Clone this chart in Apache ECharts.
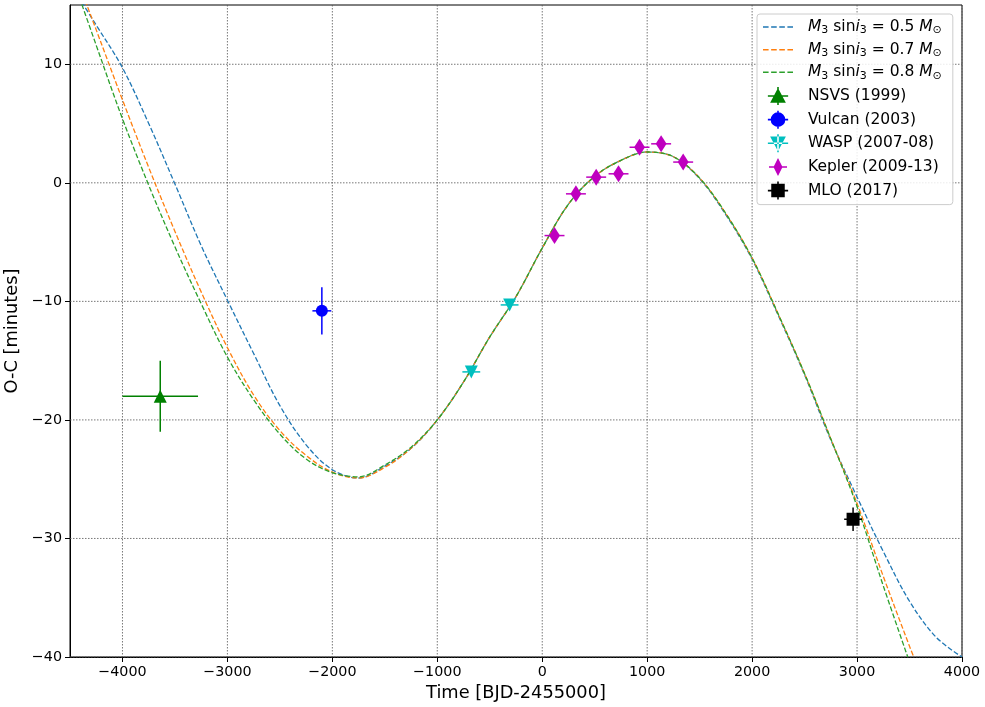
<!DOCTYPE html>
<html><head><meta charset="utf-8">
<script src="https://cdn.jsdelivr.net/npm/echarts@6/dist/echarts.min.js"></script>
<style>html,body{margin:0;padding:0;background:#fff}#c{width:985px;height:707px}</style>
</head><body><div id="c"></div>
<script>
// ---- tick values ----
const xTicks = [-4000,-3000,-2000,-1000,0,1000,2000,3000,4000];
const yTicks = [-40,-30,-20,-10,0,10];

// ---- model curves ----
const curveNames = ['M3 sini3 = 0.5 Msun','M3 sini3 = 0.7 Msun','M3 sini3 = 0.8 Msun'];
const curveMass = ['0.5','0.7','0.8'];
const curve05 = [[-4500,16.8],[-4250,13.3],[-4000,9.7],[-3750,5.0],[-3500,-0.1],[-3250,-5.3],[-3000,-9.9],[-2750,-14.4],[-2500,-18.8],[-2250,-22.1],[-2000,-24.2],[-1750,-24.9],[-1500,-23.9],[-1250,-22.4],[-1000,-20.0],[-750,-16.8],[-500,-13.0],[-250,-9.6],[0,-5.5],[250,-1.8],[500,0.55],[750,1.9],[1000,2.6],[1250,2.2],[1500,0.35],[1750,-2.7],[2000,-6.45],[2250,-11.2],[2500,-16.2],[2750,-21.7],[3000,-26.5],[3250,-31.1],[3500,-35.3],[3750,-38.3],[4000,-40.0]];
const curve07 = [[-4500,18.8],[-4250,12.9],[-4000,7.0],[-3750,1.3],[-3500,-4.1],[-3250,-9.2],[-3000,-13.9],[-2750,-17.9],[-2500,-20.9],[-2250,-23.0],[-2000,-24.4],[-1750,-24.9],[-1500,-24.0],[-1250,-22.4],[-1000,-20.0],[-750,-16.8],[-500,-13.0],[-250,-9.6],[0,-5.5],[250,-1.8],[500,0.55],[750,1.9],[1000,2.6],[1250,2.2],[1500,0.4],[1750,-2.6],[2000,-6.35],[2250,-11.1],[2500,-16.1],[2750,-21.6],[3000,-27.05],[3250,-33.2],[3500,-39.1],[3540,-40.0]];
const curve08 = [[-4500,17.9],[-4250,11.6],[-4000,5.4],[-3750,-0.2],[-3500,-5.4],[-3250,-10.2],[-3000,-14.7],[-2750,-18.3],[-2500,-21.2],[-2250,-23.3],[-2000,-24.45],[-1750,-24.8],[-1500,-23.8],[-1250,-22.3],[-1000,-20.0],[-750,-16.8],[-500,-13.0],[-250,-9.6],[0,-5.5],[250,-1.8],[500,0.55],[750,1.9],[1000,2.6],[1250,2.2],[1500,0.4],[1750,-2.6],[2000,-6.35],[2250,-11.1],[2500,-16.1],[2750,-21.6],[3000,-27.3],[3250,-34.0],[3483,-40.0]];

// ---- observations: [time, O-C, xerr, yerr] ----
const nsvs   = [[-3640,-18.0,360,3.0]];
const vulcan = [[-2100,-10.8,90,2.0]];
const wasp   = [[-676,-15.95,85,0.3],[-311,-10.3,85,0.3]];
const kepler = [[117,-4.45,95,0.3],[321,-0.93,95,0.3],[514,0.48,95,0.3],[727,0.76,95,0.3],[927,3.0,95,0.3],[1133,3.29,95,0.3],[1343,1.75,95,0.3]];
const mlo    = [[2962,-28.38,85,1.0]];

const FONT = 'DejaVu Sans';
const fmt = v => (v < 0 ? '\u2212' + Math.abs(v) : String(v));

function errRender(shape, color, size) {
  return function (params, api) {
    const x = api.value(0), y = api.value(1), xe = api.value(2), ye = api.value(3);
    const c = api.coord([x, y]);
    const l = api.coord([x - xe, y]), r = api.coord([x + xe, y]);
    const t = api.coord([x, y + ye]), b = api.coord([x, y - ye]);
    const ls = { stroke: color, lineWidth: 1.5 };
    const cx = c[0], cy = c[1], s = size;
    let m;
    if (shape === 'tup') m = { type: 'polygon', shape: { points: [[cx, cy - s / 2], [cx + s / 2, cy + s / 2], [cx - s / 2, cy + s / 2]] }, style: { fill: color } };
    else if (shape === 'tdown') m = { type: 'polygon', shape: { points: [[cx, cy + s / 2], [cx + s / 2, cy - s / 2], [cx - s / 2, cy - s / 2]] }, style: { fill: color } };
    else if (shape === 'circle') m = { type: 'circle', shape: { cx: cx, cy: cy, r: s / 2 }, style: { fill: color } };
    else if (shape === 'diamond') m = { type: 'polygon', shape: { points: [[cx, cy - s / 2], [cx + s * 0.32, cy], [cx, cy + s / 2], [cx - s * 0.32, cy]] }, style: { fill: color } };
    else m = { type: 'rect', shape: { x: cx - s / 2, y: cy - s / 2, width: s, height: s }, style: { fill: color } };
    return { type: 'group', children: [
      { type: 'line', shape: { x1: l[0], y1: l[1], x2: r[0], y2: r[1] }, style: ls },
      { type: 'line', shape: { x1: t[0], y1: t[1], x2: b[0], y2: b[1] }, style: ls },
      m
    ] };
  };
}

function gridRender(dir) {
  return function (params, api) {
    const v = api.value(dir === 'v' ? 0 : 1);
    let p1, p2;
    if (dir === 'v') { p1 = api.coord([v, 15]); p2 = api.coord([v, -40]); }
    else { p1 = api.coord([-4500, v]); p2 = api.coord([4000, v]); }
    return { type: 'line', shape: { x1: p1[0], y1: p1[1], x2: p2[0], y2: p2[1] },
      style: { stroke: '#555', lineWidth: 0.8, lineDash: [1.5, 1.5] } };
  };
}

const lineColors = ['#1f77b4', '#ff7f0e', '#2ca02c'];
const curves = [curve05, curve07, curve08];

const series = [
  { type: 'custom', silent: true, z: 1, data: xTicks.map(v => [v, 0]), encode: { x: 0, y: 1 }, renderItem: gridRender('v') },
  { type: 'custom', silent: true, z: 1, data: yTicks.map(v => [0, v]), encode: { x: 0, y: 1 }, renderItem: gridRender('h') }
];
curves.forEach((d, i) => series.push({
  name: curveNames[i], type: 'line', data: d, symbol: 'none', smooth: 0.35, z: 3, clip: true,
  lineStyle: { color: lineColors[i], width: 1.3, type: [5, 2.2] }, itemStyle: { color: lineColors[i] }
}));
const obs = [
  ['NSVS (1999)', nsvs, 'tup', '#008000', 13],
  ['Vulcan (2003)', vulcan, 'circle', '#0000ff', 12],
  ['WASP (2007-08)', wasp, 'tdown', '#00bfbf', 13],
  ['Kepler (2009-13)', kepler, 'diamond', '#bf00bf', 17],
  ['MLO (2017)', mlo, 'square', '#000000', 13]
];
obs.forEach(o => series.push({
  name: o[0], type: 'custom', data: o[1], z: 5, encode: { x: 0, y: 1 },
  itemStyle: { color: o[3] }, renderItem: errRender(o[2], o[3], o[4])
}));

const dashIcon = 'path://M0,0H5.5V1.5H0Z M8,0H13.5V1.5H8Z M16,0H21.5V1.5H16Z M24,0H29.5V1.5H24Z';
const icons = {
  tup: 'path://M1,9.3H19V10.7H1Z M9.3,2H10.7V18H9.3Z M10,3L17,16H3Z',
  circle: 'path://M1,9.3H19V10.7H1Z M9.3,2H10.7V18H9.3Z M10,3.5A6.5,6.5 0 1 1 9.99,3.5Z',
  tdown: 'path://M1,9.3H19V10.7H1Z M9.3,2H10.7V18H9.3Z M10,17L17,4H3Z',
  diamond: 'path://M1,9.3H19V10.7H1Z M9.3,2H10.7V18H9.3Z M10,1L14.5,10L10,19L5.5,10Z',
  square: 'path://M1,9.3H19V10.7H1Z M9.3,2H10.7V18H9.3Z M4,4H16V16H4Z'
};

const legendData = curveNames.map(n => ({ name: n, icon: dashIcon })).concat(obs.map(o => ({ name: o[0], icon: icons[o[2]] })));

const chart = echarts.init(document.getElementById('c'), null, { renderer: 'canvas' });
chart.setOption({
  animation: false,
  backgroundColor: '#fff',
  grid: { left: 70, right: 23, top: 5, bottom: 50, show: true, borderColor: '#000', borderWidth: 1,
          backgroundColor: 'transparent', outerBoundsMode: 'none', containLabel: false },
  xAxis: {
    type: 'value', min: -4500, max: 4000, interval: 500,
    name: 'Time [BJD-2455000]', nameLocation: 'middle', nameGap: 24,
    nameTextStyle: { fontFamily: FONT, fontSize: 17.8, color: '#000' },
    axisLine: { show: true, onZero: false, lineStyle: { color: '#000', width: 1 } },
    axisTick: { show: true, length: 5, customValues: xTicks, lineStyle: { color: '#000' } },
    axisLabel: { customValues: xTicks, formatter: fmt, fontFamily: FONT, fontSize: 14.3, color: '#000', margin: 8 },
    splitLine: { show: false }
  },
  yAxis: {
    type: 'value', min: -40, max: 15, interval: 10,
    name: 'O-C [minutes]', nameLocation: 'middle', nameGap: 40,
    nameTextStyle: { fontFamily: FONT, fontSize: 17.8, color: '#000' },
    axisLine: { show: true, onZero: false, lineStyle: { color: '#000', width: 1 } },
    axisTick: { show: true, length: 5, customValues: yTicks, lineStyle: { color: '#000' } },
    axisLabel: { customValues: yTicks, formatter: fmt, fontFamily: FONT, fontSize: 14.3, color: '#000', margin: 8 },
    splitLine: { show: false }
  },
  legend: {
    orient: 'vertical', left: 757, top: 14,
    padding: [5, 11, 5, 6],
    itemWidth: 30, itemHeight: 18, itemGap: 5.66,
    backgroundColor: 'rgba(255,255,255,0.85)', borderColor: '#ccc', borderWidth: 1, borderRadius: 3,
    selectedMode: false,
    data: legendData,
    formatter: function (name) {
      const i = curveNames.indexOf(name);
      if (i >= 0) return '{it|M}{sub|3} sin{it|i}{sub|3} = ' + curveMass[i] + ' {it|M}{sub|\u2299}';
      return name;
    },
    textStyle: {
      fontFamily: FONT, fontSize: 15.5, color: '#000', padding: [0, 0, 0, 10],
      rich: {
        it: { fontFamily: FONT, fontSize: 15.5, fontStyle: 'italic', color: '#000' },
        sub: { fontFamily: FONT, fontSize: 11, color: '#000', padding: [7, 0, 0, 0] }
      }
    }
  },
  series: series
});
</script></body></html>
